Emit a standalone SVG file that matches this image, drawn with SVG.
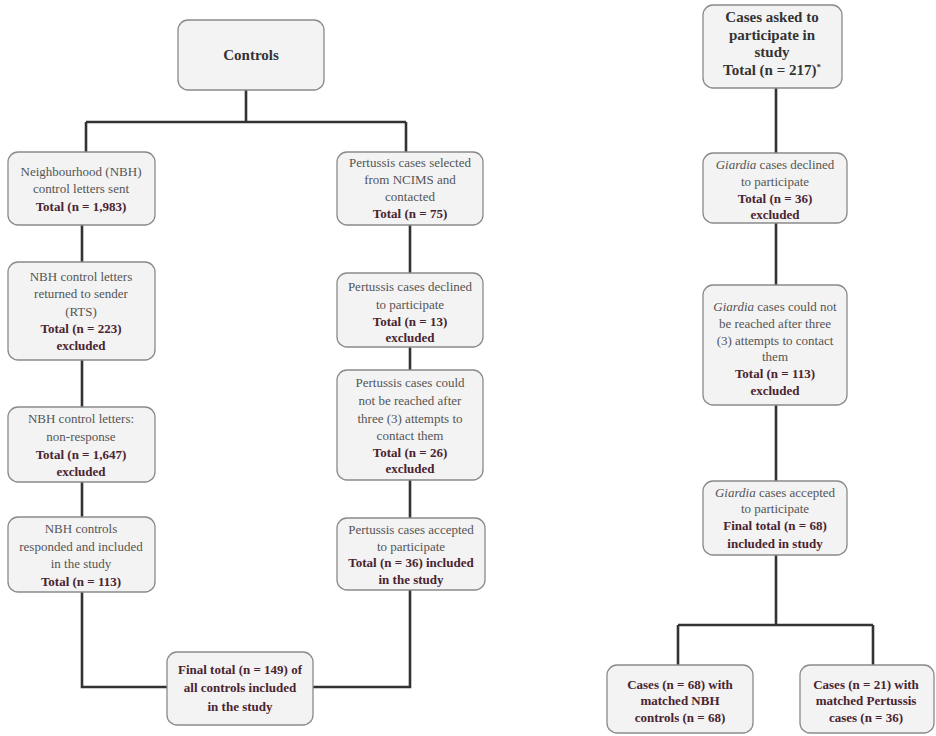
<svg xmlns="http://www.w3.org/2000/svg" width="936" height="736" viewBox="0 0 936 736" font-family="Liberation Serif, DejaVu Serif, Times New Roman, serif">
<style>
.box{fill:#f3f3f3;stroke:#8a8a8a;stroke-width:1.3}
.t{font-size:13px;fill:#555;text-anchor:middle}
.b{font-size:13px;font-weight:bold;fill:#4a2430;text-anchor:middle}
.h{font-size:15px;font-weight:bold;fill:#333;text-anchor:middle}
.ln{fill:none;stroke:#333;stroke-width:2.6}
</style>
<rect width="936" height="736" fill="#fff"/>
<g id="connectors">
<path class="ln" d="M246 90V122M86 122H406M86 122V152M406 122V152"/>
<path class="ln" d="M82 225V262M82 360V407M82 482V517M82 592V687H167"/>
<path class="ln" d="M410 225V273M410 347V370M410 480V518M410 590V687H313"/>
<path class="ln" d="M776 88V153M776 223V285M776 405V481M776 555V625M678 625H873M678 625V665M873 625V665"/>
</g>
<g id="controls">
<rect class="box" x="178" y="20" width="146" height="70" rx="10"/>
<text class="h" x="251" y="60">Controls</text>
</g>
<g id="nbh1">
<rect class="box" x="8" y="152" width="147" height="73" rx="10"/>
<text class="t" x="81" y="176">Neighbourhood (NBH)</text>
<text class="t" x="81" y="193">control letters sent</text>
<text class="b" x="81" y="211">Total (n = 1,983)</text>
</g>
<g id="nbh2">
<rect class="box" x="8" y="262" width="147" height="98" rx="10"/>
<text class="t" x="81" y="281">NBH control letters</text>
<text class="t" x="81" y="298">returned to sender</text>
<text class="t" x="81" y="316">(RTS)</text>
<text class="b" x="81" y="333">Total (n = 223)</text>
<text class="b" x="81" y="350">excluded</text>
</g>
<g id="nbh3">
<rect class="box" x="8" y="407" width="147" height="75" rx="10"/>
<text class="t" x="81" y="423">NBH control letters:</text>
<text class="t" x="81" y="441">non-response</text>
<text class="b" x="81" y="459">Total (n = 1,647)</text>
<text class="b" x="81" y="476">excluded</text>
</g>
<g id="nbh4">
<rect class="box" x="8" y="517" width="147" height="75" rx="10"/>
<text class="t" x="81" y="533">NBH controls</text>
<text class="t" x="81" y="551">responded and included</text>
<text class="t" x="81" y="568">in the study</text>
<text class="b" x="81" y="586">Total (n = 113)</text>
</g>
<g id="pert1">
<rect class="box" x="337" y="152" width="146" height="73" rx="10"/>
<text class="t" x="410" y="167">Pertussis cases selected</text>
<text class="t" x="410" y="184">from NCIMS and</text>
<text class="t" x="410" y="201">contacted</text>
<text class="b" x="410" y="218">Total (n = 75)</text>
</g>
<g id="pert2">
<rect class="box" x="337" y="273" width="146" height="74" rx="10"/>
<text class="t" x="410" y="291">Pertussis cases declined</text>
<text class="t" x="410" y="309">to participate</text>
<text class="b" x="410" y="326">Total (n = 13)</text>
<text class="b" x="410" y="342">excluded</text>
</g>
<g id="pert3">
<rect class="box" x="337" y="370" width="146" height="110" rx="10"/>
<text class="t" x="410" y="387">Pertussis cases could</text>
<text class="t" x="410" y="405">not be reached after</text>
<text class="t" x="410" y="423">three (3) attempts to</text>
<text class="t" x="410" y="440">contact them</text>
<text class="b" x="410" y="457">Total (n = 26)</text>
<text class="b" x="410" y="473">excluded</text>
</g>
<g id="pert4">
<rect class="box" x="337" y="518" width="148" height="72" rx="10"/>
<text class="t" x="411" y="534">Pertussis cases accepted</text>
<text class="t" x="411" y="551">to participate</text>
<text class="b" x="411" y="567">Total (n = 36) included</text>
<text class="b" x="411" y="584">in the study</text>
</g>
<g id="final">
<rect class="box" x="167" y="652" width="146" height="73" rx="10"/>
<text class="b" x="240" y="674">Final total (n = 149) of</text>
<text class="b" x="240" y="692">all controls included</text>
<text class="b" x="240" y="711">in the study</text>
</g>
<g id="cases">
<rect class="box" x="703" y="5" width="139" height="83" rx="10"/>
<text class="h" x="772" y="22">Cases asked to</text>
<text class="h" x="772" y="40">participate in</text>
<text class="h" x="772" y="57">study</text>
<text class="h" x="772" y="75">Total (n = 217)<tspan font-size="9" dy="-5">*</tspan></text>
</g>
<g id="giardia1">
<rect class="box" x="703" y="153" width="144" height="70" rx="10"/>
<text class="t" x="775" y="169"><tspan font-style="italic">Giardia</tspan> cases declined</text>
<text class="t" x="775" y="186">to participate</text>
<text class="b" x="775" y="203">Total (n = 36)</text>
<text class="b" x="775" y="219">excluded</text>
</g>
<g id="giardia2">
<rect class="box" x="703" y="285" width="144" height="120" rx="10"/>
<text class="t" x="775" y="311"><tspan font-style="italic">Giardia</tspan> cases could not</text>
<text class="t" x="775" y="328">be reached after three</text>
<text class="t" x="775" y="345">(3) attempts to contact</text>
<text class="t" x="775" y="361">them</text>
<text class="b" x="775" y="378">Total (n = 113)</text>
<text class="b" x="775" y="395">excluded</text>
</g>
<g id="giardia3">
<rect class="box" x="703" y="481" width="144" height="74" rx="10"/>
<text class="t" x="775" y="497"><tspan font-style="italic">Giardia</tspan> cases accepted</text>
<text class="t" x="775" y="513">to participate</text>
<text class="b" x="775" y="530">Final total (n = 68)</text>
<text class="b" x="775" y="548">included in study</text>
</g>
<g id="match1">
<rect class="box" x="607" y="665" width="146" height="68" rx="10"/>
<text class="b" x="680" y="689">Cases (n = 68) with</text>
<text class="b" x="680" y="705">matched NBH</text>
<text class="b" x="680" y="722">controls (n = 68)</text>
</g>
<g id="match2">
<rect class="box" x="800" y="665" width="134" height="68" rx="10"/>
<text class="b" x="866" y="689">Cases (n = 21) with</text>
<text class="b" x="866" y="705">matched Pertussis</text>
<text class="b" x="866" y="722">cases (n = 36)</text>
</g>
</svg>
